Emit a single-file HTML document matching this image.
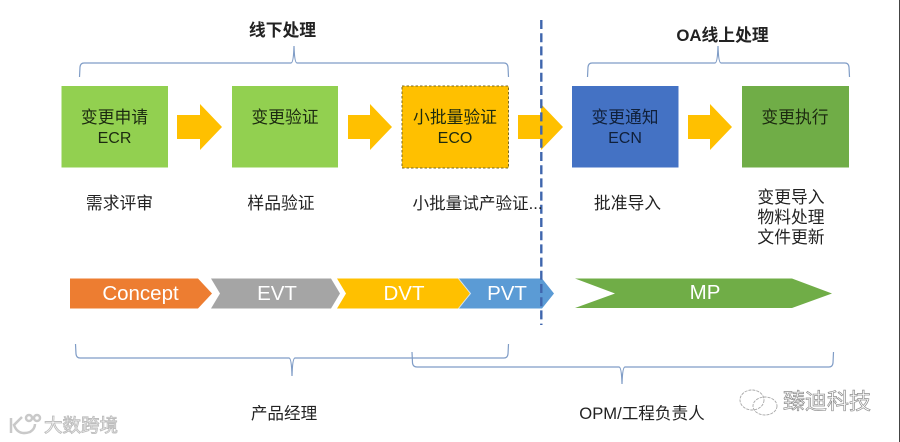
<!DOCTYPE html>
<html><head><meta charset="utf-8">
<style>
html,body{margin:0;padding:0;background:#fff;width:900px;height:442px;overflow:hidden}
svg{display:block}
text{font-family:"Liberation Sans","Noto Sans CJK SC",sans-serif;text-anchor:middle}
.c{font-size:16.8px;fill:#222}
.d{font-size:16.8px;fill:#1c2a10}
.l{font-size:16px}
.w{font-size:20.500px;fill:#fff}
.b{fill:none;stroke:#7f9cc6;stroke-width:1.2}
</style></head><body>
<svg width="900" height="442" viewBox="0 0 900 442" xmlns="http://www.w3.org/2000/svg" style="filter:blur(0.3px)">
<rect width="900" height="442" fill="#fff"/>
<rect x="899" y="0" width="1" height="442" fill="#444"/>

<!-- braces -->
<path class="b" d="M79.500 77 L80 67 Q80.500 63 84 63 L291 63 Q293.500 63 294 46 Q294.500 63 297 63 L504 63 Q507.500 63 508 67 L508.500 77"/>
<path class="b" d="M587.500 77 L588 67 Q588.500 63 592 63 L715 63 Q717.500 63 718 46 Q718.500 63 721 63 L845 63 Q848.500 63 849 67 L849.500 77"/>
<path class="b" d="M75.500 344 L76 354 Q76.500 358 80 358 L289 358 Q291.500 358 292 376 Q292.500 358 295 358 L504 358 Q507.500 358 508 354 L508.500 344"/>
<path class="b" d="M412 352 L412.500 363 Q413 367 417 367 L619 367 Q621.500 367 622 384 Q622.500 367 625 367 L829 367 Q832.500 367 833 363 L833.500 352"/>

<!-- boxes -->
<rect x="61.500" y="86" width="106.500" height="81.500" fill="#92d050"/>
<rect x="232" y="86" width="106" height="81.500" fill="#92d050"/>
<rect x="402" y="86" width="106.500" height="82" fill="#ffc000" stroke="#7a6a20" stroke-width="1" stroke-dasharray="2.500 2"/>
<rect x="572" y="86" width="106.500" height="81.500" fill="#4472c4"/>
<rect x="742" y="86" width="107" height="81.500" fill="#70ad47"/>

<!-- arrows -->
<g fill="#ffc000">
<path d="M177 115 H200 V104 L222 127 L200 150 V139 H177Z"/>
<path d="M348 115 H370 V104 L392 127 L370 150 V139 H348Z"/>
<path d="M518 115 H541 V104 L563 127 L541 150 V139 H518Z"/>
<path d="M688 115 H710 V104 L732 127 L710 150 V139 H688Z"/>
</g>

<!-- chevrons -->
<path d="M70 278.500 H198 L212 293.500 L198 308.500 H70Z" fill="#ed7d31"/>
<path d="M211 278.500 H331 L340 293.500 L331 308.500 H211 L220 293.500Z" fill="#a5a5a5"/>
<path d="M458 278.500 H542 L554 293.500 L542 308.500 H458 L470 293.500Z" fill="#5b9bd5"/>
<path d="M337 278.500 H458 L470 293.500 L458 308.500 H337 L346 293.500Z" fill="#ffc000"/>
<path d="M458.500 278.500 L470.500 293.500 L458.500 308.500" fill="none" stroke="#fff" stroke-width="1" opacity="0.700"/>
<path d="M575 278.500 H792 L832 293.500 L792 308 H575 L615 293.500Z" fill="#70ad47"/>

<!-- dashed divider -->
<line x1="541.300" y1="20" x2="541.300" y2="325" stroke="#3f66ad" stroke-width="2.400" stroke-dasharray="9 4.200"/>

<!-- labels -->
<text x="282.500" y="36" font-size="16.800" font-weight="700" fill="#222">线下处理</text>
<text x="722.500" y="41" font-size="16.800" font-weight="700" fill="#222">OA线上处理</text>

<text class="d" x="114.500" y="123">变更申请</text>
<text class="d l" x="114.500" y="143">ECR</text>
<text class="d" x="285" y="123">变更验证</text>
<text class="d" x="455" y="123">小批量验证</text>
<text class="d l" x="455" y="143">ECO</text>
<text class="d" x="625" y="123" style="fill:#10203a">变更通知</text>
<text class="d l" x="625" y="143" style="fill:#10203a">ECN</text>
<text class="d" x="795" y="123">变更执行</text>

<text class="c" x="119.500" y="209">需求评审</text>
<text class="c" x="281" y="209">样品验证</text>
<text class="c" x="477.500" y="209" style="font-size:16.600px">小批量试产验证...</text>
<text class="c" x="627.500" y="209">批准导入</text>
<text class="c" x="791" y="203">变更导入</text>
<text class="c" x="791" y="223">物料处理</text>
<text class="c" x="791" y="243">文件更新</text>

<text class="w" x="140.500" y="300">Concept</text>
<text class="w" x="277" y="300">EVT</text>
<text class="w" x="404" y="300">DVT</text>
<text class="w" x="507" y="300">PVT</text>
<text class="w" x="705" y="299">MP</text>

<text x="284" y="419" font-size="16.600" fill="#222">产品经理</text>
<text x="642" y="419" font-size="16.600" fill="#222">OPM/工程负责人</text>

<!-- watermarks -->
<g fill="none" stroke="#c9c9c9" stroke-width="2.500">
<path d="M11 418 V433"/>
<path d="M22 417 L14 425 Q18 436 30 432 Q35 429 35 424"/>
<circle cx="29" cy="418" r="3"/>
<circle cx="37" cy="418" r="3"/>
</g>
<text x="81" y="432" font-size="18.500" fill="#fff" stroke="#bdbdbd" stroke-width="0.900">大数跨境</text>
<g fill="none" stroke="#a8a8a8" stroke-width="0.900" stroke-dasharray="3 1">
<ellipse cx="752" cy="400" rx="12" ry="10"/>
<ellipse cx="765" cy="406" rx="12" ry="9"/>
</g>
<text x="827" y="409" font-size="22" fill="#fff" stroke="#8d8d8d" stroke-width="0.700">臻迪科技</text>
</svg>
</body></html>
